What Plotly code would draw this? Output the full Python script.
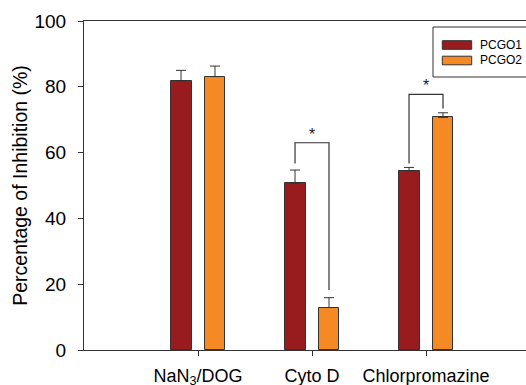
import plotly.graph_objects as go

# ---- data ----
categories = ["NaN<sub>3</sub>/DOG", "Cyto D", "Chlorpromazine"]
cat_pos = [1, 2, 3]
pcgo1 = [81.8, 50.7, 54.5]
pcgo1_err = [3.2, 4.0, 1.0]
pcgo2 = [83.1, 12.9, 70.7]
pcgo2_err = [3.2, 3.0, 1.4]
series_names = ["PCGO1", "PCGO2"]
y_ticks = [0, 20, 40, 60, 80, 100]
# significance brackets: (category index, bracket top y, left leg bottom y, right leg bottom y)
sig_cats = [1, 2]
sig_top = [63.0, 77.7]
sig_left_bottom = [56.7, 56.7]
sig_right_bottom = [18.2, 73.4]

# ---- style ----
c1 = "#981B1E"
c2 = "#F58A25"
edge = "#333333"
font = "Arial, Liberation Sans, sans-serif"
bw = 0.184
off = 0.149

# the original figure is cropped on the right: draw a wider figure, page clips it
L, T, B = 84, 21, 350
FW, FH = 580, 385
PX_PER_UNIT = (526 - L) / 3.877
x_max = (FW - L) / PX_PER_UNIT

fig = go.Figure()
fig.add_trace(go.Bar(
    x=cat_pos, y=pcgo1, name=series_names[0], width=bw, offset=-off - bw / 2,
    marker=dict(color=c1, line=dict(color=edge, width=1)),
    error_y=dict(type="data", symmetric=False, array=pcgo1_err, arrayminus=[0] * 3,
                 color=edge, thickness=1, width=5),
    showlegend=False))
fig.add_trace(go.Bar(
    x=cat_pos, y=pcgo2, name=series_names[1], width=bw, offset=off - bw / 2,
    marker=dict(color=c2, line=dict(color=edge, width=1)),
    error_y=dict(type="data", symmetric=False, array=pcgo2_err, arrayminus=[0] * 3,
                 color=edge, thickness=1, width=5),
    showlegend=False))

# brackets
for i, ci in enumerate(sig_cats):
    xc = cat_pos[ci]
    xl, xr = xc - off, xc + off
    fig.add_trace(go.Scatter(
        x=[xl, xl, xr, xr],
        y=[sig_left_bottom[i], sig_top[i], sig_top[i], sig_right_bottom[i]],
        mode="lines", line=dict(color=edge, width=1.2), showlegend=False, hoverinfo="skip"))
    fig.add_annotation(x=xc, y=sig_top[i], text="*", showarrow=False, yanchor="bottom",
                       yshift=-2, font=dict(size=16, color="#222", family=font))

# manual legend (window-pixel positions -> paper coords)
W = FW - L
H = B - T
def px(xp):
    return (xp - L) / W
def py(yp):
    return (B - yp) / H
fig.add_shape(type="rect", xref="paper", yref="paper", x0=px(433), x1=px(545),
              y0=py(77), y1=py(27), line=dict(color=edge, width=1), fillcolor="white")
for j, (nm, col) in enumerate(zip(series_names, [c1, c2])):
    top = 40.7 + j * 15.5
    fig.add_shape(type="rect", xref="paper", yref="paper", x0=px(442.3), x1=px(471.7),
                  y0=py(top + 8.6), y1=py(top), line=dict(color=edge, width=1), fillcolor=col)
    fig.add_annotation(xref="paper", yref="paper", x=px(478), y=py(top + 4.3), text=nm,
                       showarrow=False, xanchor="left", yanchor="middle",
                       font=dict(size=12, color="black", family=font))

fig.update_layout(
    width=FW, height=FH,
    margin=dict(l=L, r=0, t=T, b=FH - B, autoexpand=False),
    paper_bgcolor="white", plot_bgcolor="white",
    font=dict(family=font, color="black"),
    bargap=0,
    xaxis=dict(range=[0, x_max], tickvals=cat_pos, ticktext=categories,
               showline=True, linecolor=edge, linewidth=1.2, mirror=True,
               ticks="outside", ticklen=5, tickcolor=edge, showgrid=False, zeroline=False,
               ticklabelstandoff=4,
               tickfont=dict(size=18, family=font, color="black")),
    yaxis=dict(range=[0, 100], tickvals=y_ticks, showline=True, linecolor=edge, linewidth=1.2,
               ticks="outside", ticklen=5, tickcolor=edge, showgrid=False, zeroline=False,
               ticklabelstandoff=8,
               tickfont=dict(size=19, family=font, color="black"),
               title=dict(text="Percentage of Inhibition (%)", standoff=1,
                          font=dict(size=19.5, family=font, color="black"))),
)

fig.write_html("out.html", config={"displayModeBar": False},
               post_script="document.body.style.margin='0';document.body.style.overflow='hidden';"
                           "document.documentElement.style.overflow='hidden';")
